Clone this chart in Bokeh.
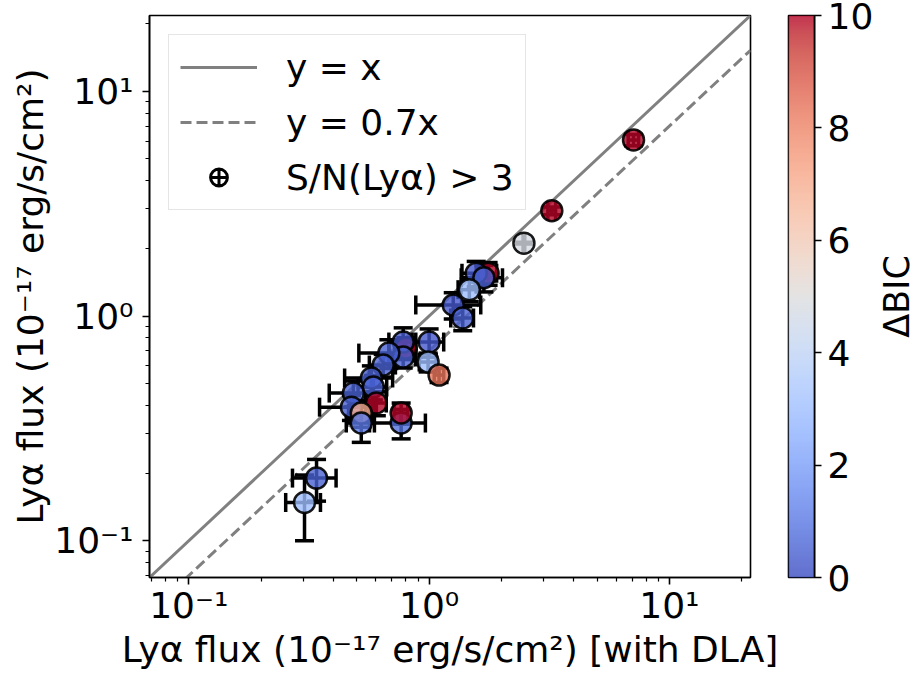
import numpy as np
from bokeh.plotting import figure
from bokeh.models import (ColumnDataSource, LinearColorMapper, FixedTicker,
                          Legend, LegendItem)
from bokeh.core.properties import value
from bokeh.layouts import row
from bokeh.embed import file_html
from bokeh.resources import INLINE

# ---------------- data ----------------
flux_dla = [7.09, 3.24, 2.48, 1.76, 1.57, 1.69, 1.47, 1.26, 1.38, 1.00,
            0.99, 1.10, 0.80, 0.78, 0.78, 0.68, 0.644, 0.575, 0.586, 0.484,
            0.475, 0.603, 0.522, 0.522, 0.765, 0.765, 0.34, 0.303]
flux_lya = [6.08, 2.94, 2.11, 1.55, 1.55, 1.48, 1.31, 1.12, 0.98, 0.766,
            0.624, 0.546, 0.72, 0.766, 0.657, 0.684, 0.605, 0.53, 0.483, 0.454,
            0.393, 0.41, 0.37, 0.334, 0.334, 0.37, 0.19, 0.148]
err_dla = [0.35, 0.12, 0.02, 0.15, 0.20, 0.33, 0.15, 0.38, 0.15, 0.15,
           0.08, 0.05, 0.08, 0.10, 0.10, 0.17, 0.08, 0.13, 0.08, 0.10,
           0.125, 0.06, 0.06, 0.07, 0.20, 0.05, 0.07, 0.05]
err_lya = [0.35, 0.12, 0.02, 0.18, 0.20, 0.20, 0.15, 0.15, 0.12, 0.11,
           0.06, 0.04, 0.08, 0.12, 0.07, 0.10, 0.07, 0.07, 0.06, 0.06,
           0.05, 0.05, 0.05, 0.06, 0.05, 0.04, 0.04, 0.048]
delta_bic = [10, 10, 4.8, 10, 0.3, 0.5, 3.0, 0.3, 0.5, 0.3,
             3.0, 8.3, 10, 0.3, 0.5, 0.5, 0.5, 0.5, 0.5, 0.5,
             0.5, 10, 7.0, 1.0, 0.8, 10, 0.5, 3.0]

axis_limits = [0.0686, 21.75]
major_ticks = [0.1, 1, 10]
major_labels = ["10⁻¹", "10⁰", "10¹"]
minor_ticks = [0.07, 0.08, 0.09, 0.2, 0.3, 0.4, 0.5, 0.6, 0.7, 0.8, 0.9,
               2, 3, 4, 5, 6, 7, 8, 9, 20]
ref_slopes = [1.0, 0.7]
ref_labels = ["y = x", "y = 0.7x"]
point_label = "S/N(Lyα) > 3"
cbar_limits = [0, 10]
cbar_ticks = [0, 2, 4, 6, 8, 10]
cbar_title = "ΔBIC"
x_title = "Lyα flux (10⁻¹⁷ erg/s/cm²) [with DLA]"
y_title = "Lyα flux (10⁻¹⁷ erg/s/cm²)"

# coolwarm colormap anchors (style)
COOLWARM = [(59, 76, 192), (68, 90, 204), (77, 104, 215), (87, 117, 225),
            (98, 130, 234), (108, 142, 241), (119, 154, 247), (130, 165, 251),
            (141, 176, 254), (152, 185, 255), (163, 194, 255), (174, 201, 253),
            (184, 208, 249), (194, 213, 244), (204, 217, 238), (213, 219, 230),
            (221, 221, 221), (229, 216, 209), (236, 211, 197), (241, 204, 185),
            (245, 196, 173), (247, 187, 160), (247, 177, 148), (247, 166, 135),
            (244, 154, 123), (241, 141, 111), (236, 127, 99), (229, 112, 88),
            (222, 96, 77), (213, 80, 66), (203, 62, 56), (192, 40, 47),
            (180, 4, 38)]
_pos = np.linspace(0, 1, len(COOLWARM))
_t = np.linspace(0, 1, 256)
palette = ["#%02x%02x%02x" % tuple(int(round(np.interp(v, _pos, [c[i] for c in COOLWARM])))
                                   for i in range(3)) for v in _t]

FONT = "DejaVu Sans"
FS = "36px"

# ---------------- main figure ----------------
p = figure(width=780, height=675, x_axis_type="log", y_axis_type="log",
           x_range=(axis_limits[0], axis_limits[1]),
           y_range=(axis_limits[0], axis_limits[1]),
           output_backend="svg", toolbar_location=None,
           min_border_left=149, min_border_right=30,
           min_border_top=15, min_border_bottom=97)
p.grid.visible = False
p.background_fill_color = "white"
p.border_fill_color = "white"
p.outline_line_color = "black"
p.outline_line_width = 1.6
p.outline_line_alpha = 1.0

for ax in (p.xaxis[0], p.yaxis[0]):
    ax.ticker = FixedTicker(ticks=major_ticks, minor_ticks=minor_ticks)
    ax.major_label_overrides = dict(zip(major_ticks, major_labels))
    ax.major_label_text_font = FONT
    ax.major_label_text_font_size = FS
    ax.major_label_text_color = "black"
    ax.axis_label_text_font = FONT
    ax.axis_label_text_font_size = FS
    ax.axis_label_text_font_style = "normal"
    ax.axis_label_text_color = "black"
    ax.axis_line_color = "black"
    ax.axis_line_width = 1.6
    ax.major_tick_line_color = "black"
    ax.major_tick_line_width = 1.6
    ax.major_tick_out = 7
    ax.major_tick_in = 0
    ax.minor_tick_line_color = "black"
    ax.minor_tick_line_width = 1.2
    ax.minor_tick_out = 4
    ax.minor_tick_in = 0
    ax.axis_label_standoff = 0
p.xaxis.axis_label = x_title
p.yaxis.axis_label = y_title
p.xaxis.major_label_standoff = 0
p.yaxis.major_label_standoff = 9

# reference lines
lx = np.array(axis_limits)
r_one = p.line(lx, ref_slopes[0] * lx, line_color="#808080", line_width=3)
r_dash = p.line(lx, ref_slopes[1] * lx, line_color="#808080", line_width=3,
                line_dash="11 5")

xa = np.array(flux_dla)
ya = np.array(flux_lya)
xe = np.array(err_dla)
ye = np.array(err_lya)
src = ColumnDataSource(dict(x=xa, y=ya, x0=xa - xe, x1=xa + xe,
                            y0=ya - ye, y1=ya + ye, dbic=delta_bic))

# error bars
p.segment(x0="x0", y0="y", x1="x1", y1="y", source=src,
          line_color="black", line_width=3.5)
p.segment(x0="x", y0="y0", x1="x", y1="y1", source=src,
          line_color="black", line_width=3.5)
for cx, cy, ang in (("x0", "y", np.pi / 2), ("x1", "y", np.pi / 2),
                    ("x", "y0", 0.0), ("x", "y1", 0.0)):
    p.scatter(x=cx, y=cy, source=src, marker="dash", angle=ang, size=19,
              line_color="black", line_width=3.5)

mapper = LinearColorMapper(palette=palette, low=cbar_limits[0], high=cbar_limits[1])
p.scatter(x="x", y="y", source=src, marker="circle", size=21,
          fill_color={"field": "dbic", "transform": mapper}, fill_alpha=0.8,
          line_color="black", line_width=2.5, line_alpha=0.9)

# legend-only glyph for the error-bar entry (not drawn in the frame)
leg_eb = p.scatter(x=[np.nan], y=[np.nan], marker="circle_cross", size=20,
                   fill_color=None, line_color="black", line_width=3)

legend = Legend(items=[LegendItem(label=ref_labels[0], renderers=[r_one]),
                       LegendItem(label=ref_labels[1], renderers=[r_dash]),
                       LegendItem(label=point_label, renderers=[leg_eb])],
                location="top_left", margin=19, padding=11, spacing=13,
                glyph_width=77, glyph_height=42, label_height=42,
                label_standoff=29, label_text_font=FONT,
                label_text_font_size=FS, label_text_color="black",
                border_line_color="#cccccc", border_line_width=1.6,
                background_fill_color="white", background_fill_alpha=0.8)
p.add_layout(legend)

# ---------------- colorbar figure ----------------
cb = figure(width=96, height=675, x_range=(0, 1),
            y_range=(cbar_limits[0], cbar_limits[1]),
            output_backend="svg", toolbar_location=None,
            min_border_left=8, min_border_right=59,
            min_border_top=15, min_border_bottom=98,
            x_axis_location=None, y_axis_location="right")
cb.grid.visible = False
cb.outline_line_color = "black"
cb.outline_line_width = 1.6
cb.border_fill_color = "white"
grad = np.linspace(cbar_limits[0], cbar_limits[1], 256).reshape(256, 1)
cb.image(image=[grad], x=0, y=cbar_limits[0], dw=1,
         dh=cbar_limits[1] - cbar_limits[0], color_mapper=mapper, global_alpha=0.8)
yax = cb.yaxis[0]
yax.ticker = FixedTicker(ticks=cbar_ticks)
yax.major_label_text_font = FONT
yax.major_label_text_font_size = FS
yax.major_label_text_color = "black"
yax.major_label_text_line_height = 1.0
yax.axis_line_color = "black"
yax.axis_line_width = 1.6
yax.major_tick_line_width = 1.6
yax.major_tick_out = 7
yax.major_tick_in = 0
yax.minor_tick_line_color = None
yax.major_label_standoff = 6

# ---------------- colorbar title figure ----------------
lab = figure(width=41, height=675, x_range=(0, 1), y_range=(0, 1),
             output_backend="svg", toolbar_location=None, min_border=0,
             min_border_top=15, min_border_bottom=98,
             x_axis_location=None, y_axis_location=None)
lab.grid.visible = False
lab.outline_line_color = None
lab.border_fill_color = "white"
lab.text(x=[0.5], y=[0.5], text=[cbar_title], angle=np.pi / 2,
         text_align="center", text_baseline="middle",
         text_font=value(FONT), text_font_size="35px", text_color="black")

layout = row(p, cb, lab)
open("out.html", "w").write(file_html(layout, INLINE))
